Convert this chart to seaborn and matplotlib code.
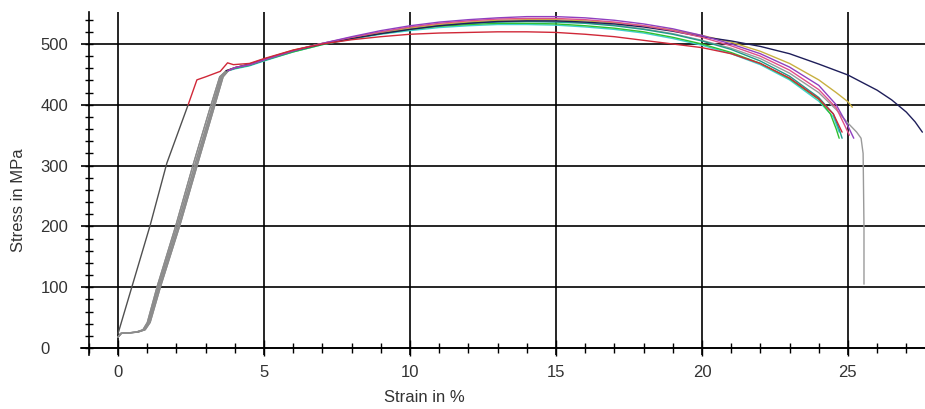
import matplotlib
matplotlib.use("Agg")
import matplotlib.pyplot as plt
import seaborn as sns
from matplotlib.ticker import MultipleLocator

# ---- data ----
# loading (elastic) branch shared stress levels, drawn grey
elastic_stress = [18, 24, 26, 30, 42, 100, 202, 300, 390, 446, 456]
elastic_a = [0.0, 0.08, 0.60, 0.85, 1.00, 1.33, 1.98, 2.56, 3.12, 3.48, 3.70]
elastic_b = [0.0, 0.10, 0.62, 0.88, 1.03, 1.37, 2.03, 2.62, 3.18, 3.52, 3.74]
elastic_c = [0.0, 0.10, 0.65, 0.90, 1.06, 1.41, 2.08, 2.67, 3.22, 3.56, 3.76]
elastic_d = [0.0, 0.12, 0.68, 0.93, 1.10, 1.45, 2.12, 2.71, 3.26, 3.60, 3.78]

plastic_strain = [4.0, 4.5, 5, 6, 7, 8, 9, 10, 11, 12, 13, 14, 15, 16, 17, 18, 19, 20, 21, 22, 23, 24]

purple_stress = [461, 466, 474, 489, 501, 512, 522, 530, 536, 540, 543, 545, 545, 543, 539, 533, 525, 514, 500, 484, 462, 432]
purple_tail_x = [24.6, 25.0, 25.2]
purple_tail_y = [400, 365, 345]

pink_stress = [461, 466, 474, 489, 501, 511, 520, 528, 534, 538, 541, 542, 542, 540, 536, 530, 522, 511, 497, 480, 457, 425]
pink_tail_x = [24.6, 24.9, 25.05]
pink_tail_y = [395, 365, 350]

gold_stress = [461, 467, 475, 490, 501, 510, 518, 526, 532, 536, 539, 540, 540, 538, 535, 530, 523, 514, 503, 488, 468, 441]
gold_tail_x = [24.6, 25.0, 25.15]
gold_tail_y = [420, 405, 396]

navy_stress = [461, 467, 475, 489, 500, 509, 517, 524, 530, 534, 537, 538, 538, 536, 533, 528, 521, 512, 505, 496, 484, 467]
navy_tail_x = [25.0, 26.0, 26.5, 27.0, 27.3, 27.55]
navy_tail_y = [449, 424, 408, 388, 372, 355]

teal_stress = [460, 465, 473, 488, 500, 510, 519, 526, 531, 534, 536, 537, 536, 534, 530, 524, 516, 505, 491, 472, 447, 412]
teal_tail_x = [24.5, 24.7, 24.8]
teal_tail_y = [385, 360, 345]

green_stress = [460, 465, 473, 487, 499, 509, 517, 524, 529, 532, 534, 534, 533, 530, 526, 520, 511, 500, 486, 468, 443, 409]
green_tail_x = [24.4, 24.6, 24.7]
green_tail_y = [385, 360, 345]

cyan_stress = [459, 464, 472, 487, 499, 508, 516, 522, 527, 530, 532, 532, 531, 528, 524, 518, 509, 498, 484, 466, 441, 406]
cyan_tail_x = [24.5, 24.7]
cyan_tail_y = [380, 355]

grey_stress = [461, 466, 474, 489, 501, 510, 519, 526, 532, 535, 537, 538, 537, 535, 531, 525, 517, 506, 493, 476, 452, 420]
grey_tail_x = [24.6, 25.0, 25.3, 25.45, 25.52, 25.55, 25.55]
grey_tail_y = [392, 370, 355, 345, 320, 200, 105]

# specimen with early yield (no preload slack)
red_elastic_x = [0.0, 1.1, 1.67, 2.4]
red_elastic_y = [24, 202, 304, 400]
red_x = [2.4, 2.7, 3.0, 3.5, 3.75, 3.95, 4.5, 5, 6, 7, 8, 9, 10, 11, 12, 13, 14, 15, 16, 17, 18, 19, 20, 21, 22, 23, 24, 24.5, 24.8]
red_y = [400, 441, 446, 455, 469, 466, 468, 476, 490, 500, 507, 512, 516, 518, 519, 520, 520, 519, 516, 512, 506, 500, 494, 484, 468, 444, 410, 385, 355]

curves = [
    ("grey", "#9a9a9a", elastic_b, grey_stress, grey_tail_x, grey_tail_y),
    ("cyan", "#40d0d0", elastic_d, cyan_stress, cyan_tail_x, cyan_tail_y),
    ("green", "#30c030", elastic_c, green_stress, green_tail_x, green_tail_y),
    ("teal", "#209a8a", elastic_b, teal_stress, teal_tail_x, teal_tail_y),
    ("gold", "#c8b040", elastic_a, gold_stress, gold_tail_x, gold_tail_y),
    ("navy", "#1e1e5a", elastic_a, navy_stress, navy_tail_x, navy_tail_y),
    ("pink", "#e0508a", elastic_c, pink_stress, pink_tail_x, pink_tail_y),
    ("purple", "#9040c0", elastic_d, purple_stress, purple_tail_x, purple_tail_y),
]

# ---- figure ----
sns.set_style("white")
plt.rcParams['font.family'] = ['Liberation Sans', 'DejaVu Sans']

fig = plt.figure(figsize=(9.25, 4.09), dpi=100)
ax = fig.add_axes([81 / 925, 54 / 409, 844 / 925, 343 / 409])

# grey loading branches first
for name, col, el_x, pl_y, tx, ty in curves:
    sns.lineplot(x=el_x, y=elastic_stress, sort=False, estimator=None,
                 color="#8c8c8c", lw=0.9, ax=ax)
sns.lineplot(x=red_elastic_x, y=red_elastic_y, sort=False, estimator=None,
             color="#505050", lw=1.0, ax=ax)

# coloured plastic branches
for name, col, el_x, pl_y, tx, ty in curves:
    xs = [el_x[-1]] + plastic_strain + tx
    ys = [elastic_stress[-1]] + pl_y + ty
    sns.lineplot(x=xs, y=ys, sort=False, estimator=None, color=col, lw=1.0, ax=ax)
sns.lineplot(x=red_x, y=red_y, sort=False, estimator=None, color="#d02838", lw=1.0, ax=ax)

ax.set_xlim(-1.27, 27.64)
ax.set_ylim(-11.5, 552.6)

ax.set_xticks([0, 5, 10, 15, 20, 25])
ax.set_yticks([0, 100, 200, 300, 400, 500])
ax.xaxis.set_minor_locator(MultipleLocator(1))
ax.yaxis.set_minor_locator(MultipleLocator(20))

ax.grid(True, which='major', color='black', lw=1.2)
ax.grid(False, which='minor')
ax.set_axisbelow(True)

for s in ['top', 'right']:
    ax.spines[s].set_visible(False)
ax.spines['left'].set_position(('data', -1))
ax.spines['bottom'].set_position(('data', 0))
for s in ['left', 'bottom']:
    ax.spines[s].set_color('black')
    ax.spines[s].set_linewidth(1.2)

ax.tick_params(axis='both', which='both', direction='inout', color='black', width=1.0,
               labelsize=12, labelcolor='#333333', bottom=True, left=True)
ax.tick_params(axis='x', which='major', length=12, pad=6.5)
ax.tick_params(axis='x', which='minor', length=7)
ax.tick_params(axis='y', which='major', length=6, pad=32)
ax.tick_params(axis='y', which='minor', length=6)

for lbl in ax.get_yticklabels():
    lbl.set_horizontalalignment('left')

ax.set_xlabel("Strain in %", fontsize=12, color='#333333')
ax.set_ylabel("Stress in MPa", fontsize=12, color='#333333')
ax.xaxis.label.set_va('center')
ax.yaxis.label.set_va('center')
ax.xaxis.set_label_coords((424 - 81) / 844, (355 - 397) / 343)
ax.yaxis.set_label_coords((18 - 81) / 844, (355 - 200) / 343)

fig.savefig("out.png", dpi=100, facecolor='white')
